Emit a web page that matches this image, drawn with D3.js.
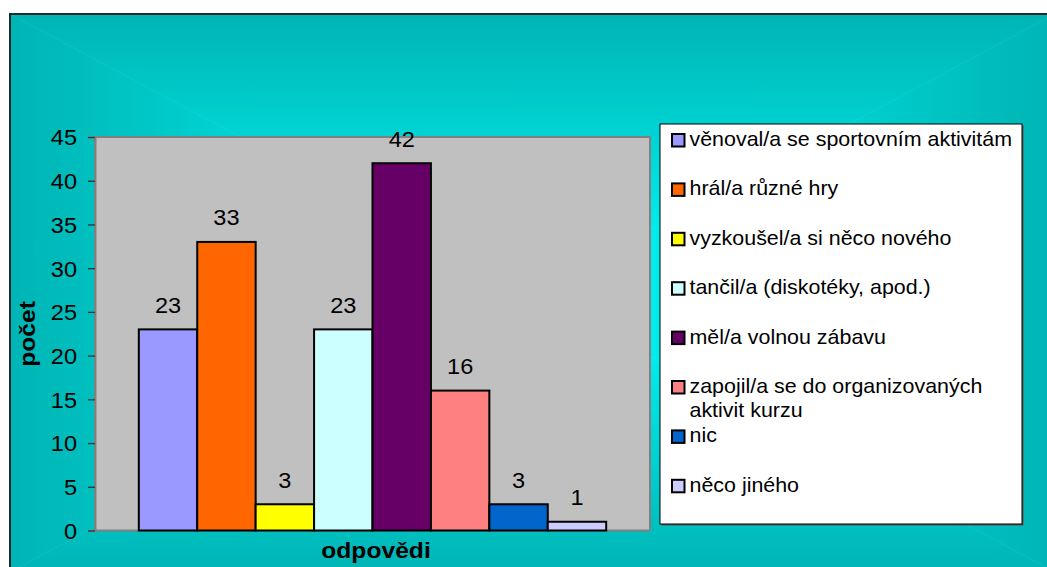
<!DOCTYPE html>
<html><head><meta charset="utf-8">
<script src="https://cdn.jsdelivr.net/npm/d3@7"></script>
<style>html,body{margin:0;padding:0;background:#fff;}svg{display:block;}</style>
</head><body>
<svg id="c" width="1047" height="567"></svg>
<script>
const categories = ["věnoval/a se sportovním aktivitám","hrál/a různé hry","vyzkoušel/a si něco nového","tančil/a (diskotéky, apod.)","měl/a volnou zábavu","zapojil/a se do organizovaných aktivit kurzu","nic","něco jiného"];
const values = [23,33,3,23,42,16,3,1];
const colors = ["#9999FF","#FF6600","#FFFF00","#CCFFFF","#660066","#FF8080","#0066CC","#CCCCFF"];
const yTicks = [0,5,10,15,20,25,30,35,40,45];
const yTitle = "počet";
const xTitle = "odpovědi";

const FONT = "'Liberation Sans', Arial, sans-serif";
const svg = d3.select("#c");
const defs = svg.append("defs");

// chart area with rectangular "from center" gradient
const ca = {x:10, y:14, w:1045, h:558};
const cx = ca.x + ca.w/2, cy = ca.y + ca.h/2;
const edgeC = "#00B4B4", midC = "#00FCFC";
function lg(id,x1,y1,x2,y2){
  const g = defs.append("linearGradient").attr("id",id).attr("gradientUnits","userSpaceOnUse")
    .attr("x1",x1).attr("y1",y1).attr("x2",x2).attr("y2",y2);
  g.append("stop").attr("offset",0).attr("stop-color",edgeC);
  g.append("stop").attr("offset",1).attr("stop-color",midC);
}
lg("gT",cx,ca.y,cx,cy); lg("gB",cx,ca.y+ca.h,cx,cy);
lg("gL",ca.x,cy,cx,cy); lg("gR",ca.x+ca.w,cy,cx,cy);
const TL=[ca.x,ca.y],TR=[ca.x+ca.w,ca.y],BL=[ca.x,ca.y+ca.h],BR=[ca.x+ca.w,ca.y+ca.h],C=[cx,cy];
const tri = [[TL,TR,C,"gT"],[BL,BR,C,"gB"],[TL,BL,C,"gL"],[TR,BR,C,"gR"]];
svg.append("g").selectAll("path").data(tri).join("path")
  .attr("d",d=>`M${d[0]}L${d[1]}L${d[2]}Z`).attr("fill",d=>`url(#${d[3]})`)
  .attr("stroke",d=>`url(#${d[3]})`).attr("stroke-width",0.6);
svg.append("path").attr("d",`M${ca.x},${ca.y+ca.h+5}V${ca.y}H${ca.x+ca.w+5}`)
  .attr("fill","none").attr("stroke","#1c2c2c").attr("stroke-width",2);

// plot area
const P = {x0:95, x1:650, y0:137, y1:530.5};
const x = d3.scaleBand().domain(categories).range([P.x0,P.x1]).paddingInner(0).paddingOuter(0.75);
const y = d3.scaleLinear().domain([0,45]).range([P.y1,P.y0]);

svg.append("rect").attr("x",P.x0).attr("y",P.y0).attr("width",P.x1-P.x0).attr("height",P.y1-P.y0)
  .attr("fill","#C0C0C0").attr("stroke","#808080").attr("stroke-width",2);

const SX_N = 1.07, NFS = 22;
function stext(g,px,py,str,fs,sx,anchor,weight){
  return g.append("text").attr("transform",`translate(${px},${py}) scale(${sx},1)`)
    .attr("text-anchor",anchor||"start").attr("font-family",FONT).attr("font-size",fs)
    .attr("font-weight",weight||"normal").attr("fill","#000").text(str);
}

// bars
const data = categories.map((c,i)=>({c,v:values[i],col:colors[i]}));
svg.append("g").selectAll("rect").data(data).join("rect")
  .attr("x",d=>x(d.c)).attr("width",x.bandwidth())
  .attr("y",d=>y(d.v)).attr("height",d=>y(0)-y(d.v))
  .attr("fill",d=>d.col).attr("stroke","#000").attr("stroke-width",2);

// data labels
const lblG = svg.append("g");
data.forEach(d=>{ stext(lblG, x(d.c)+x.bandwidth()/2, y(d.v)-16.5, String(d.v), NFS, SX_N, "middle"); });

// y axis
const yAxis = d3.axisLeft(y).tickValues(yTicks).tickSize(7).tickPadding(18).tickFormat(d3.format("d"));
const ag = svg.append("g").attr("transform",`translate(${P.x0},0)`).call(yAxis);
ag.select(".domain").attr("stroke","#808080").attr("stroke-width",2);
ag.selectAll(".tick line").attr("stroke","#333").attr("stroke-width",1.3);
ag.selectAll(".tick text").attr("font-family",FONT).attr("font-size",NFS).attr("fill","#000")
  .attr("x",null).attr("dy","0.36em")
  .attr("transform",`translate(-18,0) scale(${SX_N},1)`);

// axis titles
const SX_B = 1.12, BFS = 22;
svg.append("text").attr("transform",`translate(35,334) rotate(-90) scale(${SX_B},1)`)
  .attr("text-anchor","middle").attr("font-family",FONT).attr("font-size",BFS).attr("font-weight","bold").text(yTitle);
stext(svg, 376, 557.5, xTitle, BFS, SX_B, "middle", "bold");

// legend
const L = {x:660, y:124, w:362, h:400};
svg.append("rect").attr("x",L.x+1.5).attr("y",L.y+1.5).attr("width",L.w).attr("height",L.h).attr("fill","#555");
svg.append("rect").attr("x",L.x).attr("y",L.y).attr("width",L.w).attr("height",L.h)
  .attr("fill","#fff").attr("stroke","#000").attr("stroke-width",1);
const SX_L = 1.02, LFS = 21, maxW = 330, lineH = 24, step = 49.4, firstBase = 146;
const lg2 = svg.append("g");
data.forEach((d,i)=>{
  const base = firstBase + i*step;
  lg2.append("rect").attr("x",672).attr("y",base-12).attr("width",12.5).attr("height",12.5)
    .attr("fill",d.col).attr("stroke","#000").attr("stroke-width",2);
  const t = stext(lg2, 689.5, base, "", LFS, SX_L, "start");
  const words = d.c.split(" ");
  let line = [], ts = t.append("tspan").attr("x",0).attr("dy",0);
  words.forEach(w=>{
    line.push(w); ts.text(line.join(" "));
    if (ts.node().getComputedTextLength()*SX_L > maxW && line.length>1){
      line.pop(); ts.text(line.join(" ")); line=[w];
      ts = t.append("tspan").attr("x",0).attr("dy",lineH).text(w);
    }
  });
});
</script>
</body></html>
